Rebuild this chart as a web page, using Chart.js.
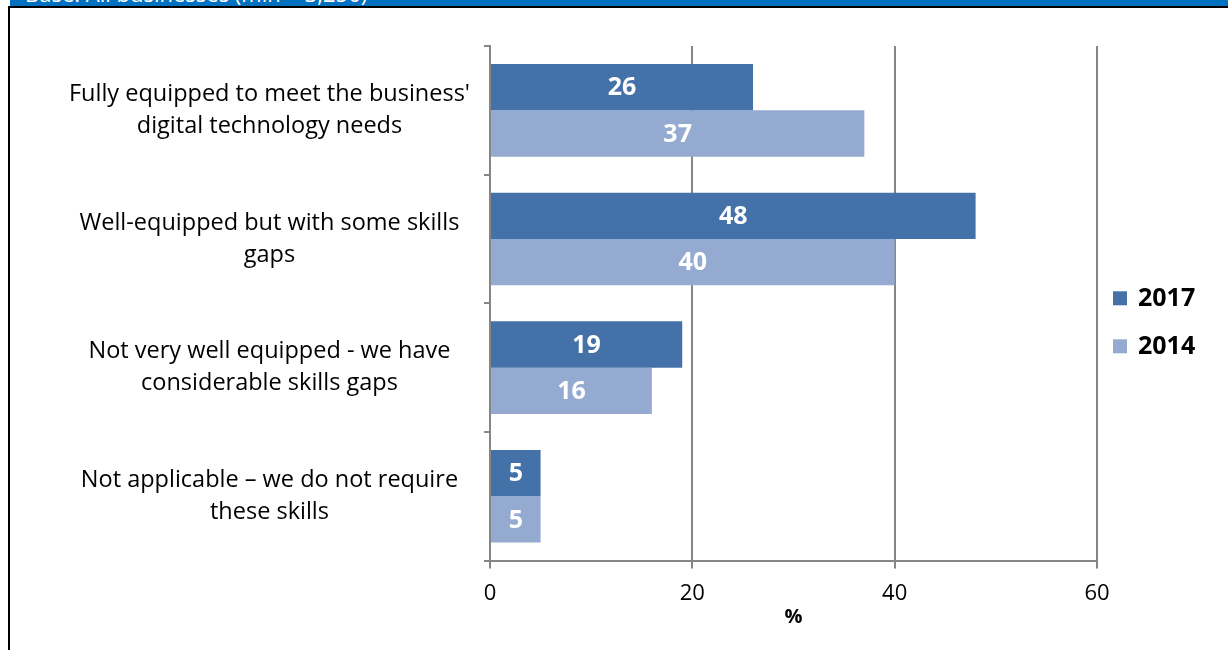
<!DOCTYPE html>
<html lang="en">
<head>
  <meta charset="UTF-8">
  <title>Digital skills readiness</title>
  <script src="https://cdn.jsdelivr.net/npm/chart.js"></script>
  <style>
    body {
      margin: 0;
      background: #ffffff;
      width: 1228px;
      height: 650px;
      overflow: hidden;
      position: relative;
      font-family: 'Open Sans', sans-serif;
    }

    .banner {
      position: absolute;
      left: 10px;
      top: 0;
      width: 1218px;
      height: 6px;
      background: #0070c0;
      overflow: hidden;
    }

    .banner span {
      position: absolute;
      left: 15px;
      top: -19px;
      font-size: 22px;
      line-height: 24px;
      color: #ffffff;
      white-space: nowrap;
    }

    .frame {
      position: absolute;
      left: 8px;
      top: 6px;
      width: 1230px;
      height: 650px;
      border-top: 2px solid #000;
      border-left: 2px solid #000;
    }

    .chart-box {
      position: absolute;
      left: 10px;
      top: 8px;
      width: 1218px;
      height: 642px;
    }
  </style>
</head>
<body>

  <div class="banner"><span>Base: All businesses (min = 3,250)</span></div>
  <div class="frame"></div>

  <div class="chart-box">
    <canvas id="skillsChart"></canvas>
  </div>

  <script>
    const categories = [
      ["Fully equipped to meet the business'", "digital technology needs"],
      ["Well-equipped but with some skills", "gaps"],
      ["Not very well equipped - we have", "considerable skills gaps"],
      ["Not applicable \u2013 we do not require", "these skills"]
    ];
    const values2017 = [26, 48, 19, 5];
    const values2014 = [37, 40, 16, 5];
    const xTicks = [0, 20, 40, 60];

    const FONT = "'Open Sans', sans-serif";

    // white bold value written in the middle of each bar
    const barValues = {
      id: 'barValues',
      afterDatasetsDraw(chart) {
        const ctx = chart.ctx;
        ctx.save();
        ctx.fillStyle = '#ffffff';
        ctx.font = `bold 25px ${FONT}`;
        ctx.textAlign = 'center';
        ctx.textBaseline = 'middle';
        chart.data.datasets.forEach((ds, i) => {
          chart.getDatasetMeta(i).data.forEach((bar, j) => {
            ctx.fillText(ds.data[j], (bar.x + bar.base) / 2, bar.y + 1);
          });
        });
        ctx.restore();
      }
    };

    // legend to the right of the plot, stacked near its middle
    const sideLegend = {
      id: 'sideLegend',
      afterDraw(chart) {
        const { ctx, chartArea } = chart;
        const x = chartArea.right + 16;
        const y0 = (chartArea.top + chartArea.bottom) / 2 - 5;
        ctx.save();
        ctx.font = `bold 25px ${FONT}`;
        ctx.textBaseline = 'middle';
        chart.data.datasets.forEach((ds, i) => {
          const y = y0 + i * 48;
          ctx.fillStyle = ds.backgroundColor;
          ctx.fillRect(x, y - 7, 14, 14);
          ctx.fillStyle = '#000';
          ctx.fillText(ds.label, x + 25, y + 1);
        });
        ctx.restore();
      }
    };

    new Chart(document.getElementById('skillsChart'), {
      type: 'bar',
      data: {
        labels: categories,
        datasets: [
          {
            label: '2017',
            data: values2017,
            backgroundColor: '#4472a8',
            categoryPercentage: 0.72,
            barPercentage: 1.0
          },
          {
            label: '2014',
            data: values2014,
            backgroundColor: '#94aad0',
            categoryPercentage: 0.72,
            barPercentage: 1.0
          }
        ]
      },
      options: {
        indexAxis: 'y',
        responsive: true,
        maintainAspectRatio: false,
        animation: false,
        layout: {
          padding: { left: 60, top: 38, right: 131, bottom: 21 }
        },
        plugins: {
          legend: { display: false },
          tooltip: { enabled: false }
        },
        scales: {
          x: {
            min: 0,
            max: 60,
            afterBuildTicks(axis) {
              axis.ticks = xTicks.map(v => ({ value: v }));
            },
            grid: {
              color: '#868686',
              lineWidth: 2,
              tickLength: 8,
              drawOnChartArea: true
            },
            border: { color: '#868686', width: 2 },
            ticks: {
              color: '#000',
              padding: 12,
              font: { family: FONT, size: 22 }
            },
            title: {
              display: true,
              text: '%',
              color: '#000',
              padding: { top: -14, bottom: 0 },
              font: { family: FONT, size: 20, weight: 'bold' }
            }
          },
          y: {
            afterFit(axis) {
              axis.width = 420;
              axis.paddingTop = 0;
              axis.paddingBottom = 0;
            },
            grid: {
              color: '#868686',
              lineWidth: 2,
              tickLength: 6,
              drawOnChartArea: false
            },
            border: { color: '#868686', width: 2 },
            ticks: {
              color: '#000',
              padding: 14,
              crossAlign: 'center',
              font: { family: FONT, size: 23.5, lineHeight: 1.35 }
            }
          }
        }
      },
      plugins: [barValues, sideLegend]
    });
  </script>

</body>
</html>
